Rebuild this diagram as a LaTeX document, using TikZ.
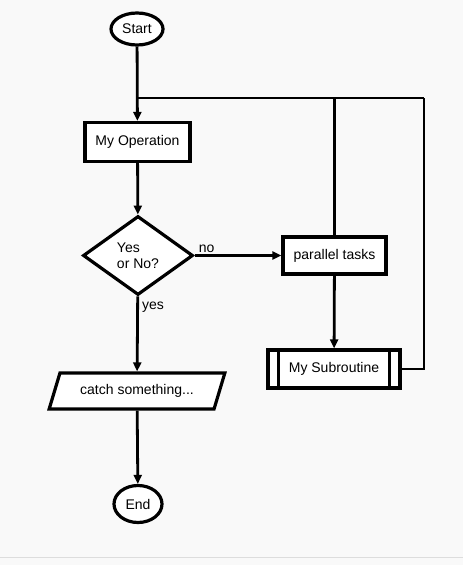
\documentclass[tikz,border=0pt]{standalone}
\usepackage{fontspec}
\setmainfont{Liberation Sans}
\usetikzlibrary{shapes.geometric,arrows.meta}
\definecolor{bgcol}{HTML}{F9F9F9}
\definecolor{rulecol}{HTML}{DDDDDD}
\tikzset{
  shapeline/.style={draw=black, line width=3.2pt, fill=white, font=\fontsize{14}{16.5}\selectfont, inner sep=0pt},
  term/.style={shapeline, ellipse},
  procbox/.style={shapeline, rectangle},
  decision/.style={shapeline, diamond, align=left},
  iobox/.style={shapeline, trapezium, trapezium left angle=58.6, trapezium right angle=121.4, trapezium stretches=true},
  conn/.style={draw=black, line width=2.8pt},
  thinconn/.style={draw=black, line width=2.2pt},
  arr/.style={conn, -{Triangle[length=9pt,width=8pt]}},
  lbl/.style={font=\fontsize{14}{16.5}\selectfont, inner sep=1pt}
}
\begin{document}
\begin{tikzpicture}[x=1pt,y=-1pt]
\fill[bgcol] (0,0) rectangle (463,565);
\useasboundingbox (0,0) rectangle (463,565);
\draw[rulecol, line width=0.8pt] (0,557) -- (463,557);

\coordinate (j) at (137,98);
\coordinate (tr) at (424,98);

\node[term, minimum width=52pt, minimum height=32pt] (start) at (137,29) {Start};
\node[procbox, minimum width=105pt, minimum height=39pt] (op) at (137.5,142) {My Operation};
\node[decision, minimum width=110pt, minimum height=79pt] (dec) at (138,255.5) {Yes\\or No?};
\node[procbox, minimum width=103pt, minimum height=37pt] (pt) at (334.5,255.5) {parallel tasks};
\node[procbox, minimum width=132pt, minimum height=38pt] (sub) at (334,369) {My Subroutine};
\draw[line width=3.2pt] ([xshift=12pt]sub.north west) -- ([xshift=12pt]sub.south west);
\draw[line width=3.2pt] ([xshift=-12pt]sub.north east) -- ([xshift=-12pt]sub.south east);
\node[iobox, minimum width=176pt, minimum height=36pt] (catch) at (137,391) {catch something...};
\node[term, minimum width=48pt, minimum height=37pt] (end) at (138,504) {End};

\draw[arr] (start) -- (op);
\draw[arr] (op) -- (dec);
\draw[arr] (dec.east) -- (pt.west);
\draw[arr] (pt) -- (sub);
\draw[arr] (dec) -- (catch);
\draw[arr] (catch) -- (end);
\draw[conn] (pt.north) -- (pt.north |- j);
\draw[conn] (j) -- ([xshift=-1pt]j -| tr);
\draw[thinconn] (tr) |- (sub.east);
\draw[thinconn] (pt.north |- j) -- (tr);

\node[lbl, anchor=south west] at ([xshift=3pt,yshift=2pt]dec.east) {no};
\node[lbl, anchor=north west] at ([xshift=3pt,yshift=-4pt]dec.south) {yes};
\end{tikzpicture}
\end{document}
